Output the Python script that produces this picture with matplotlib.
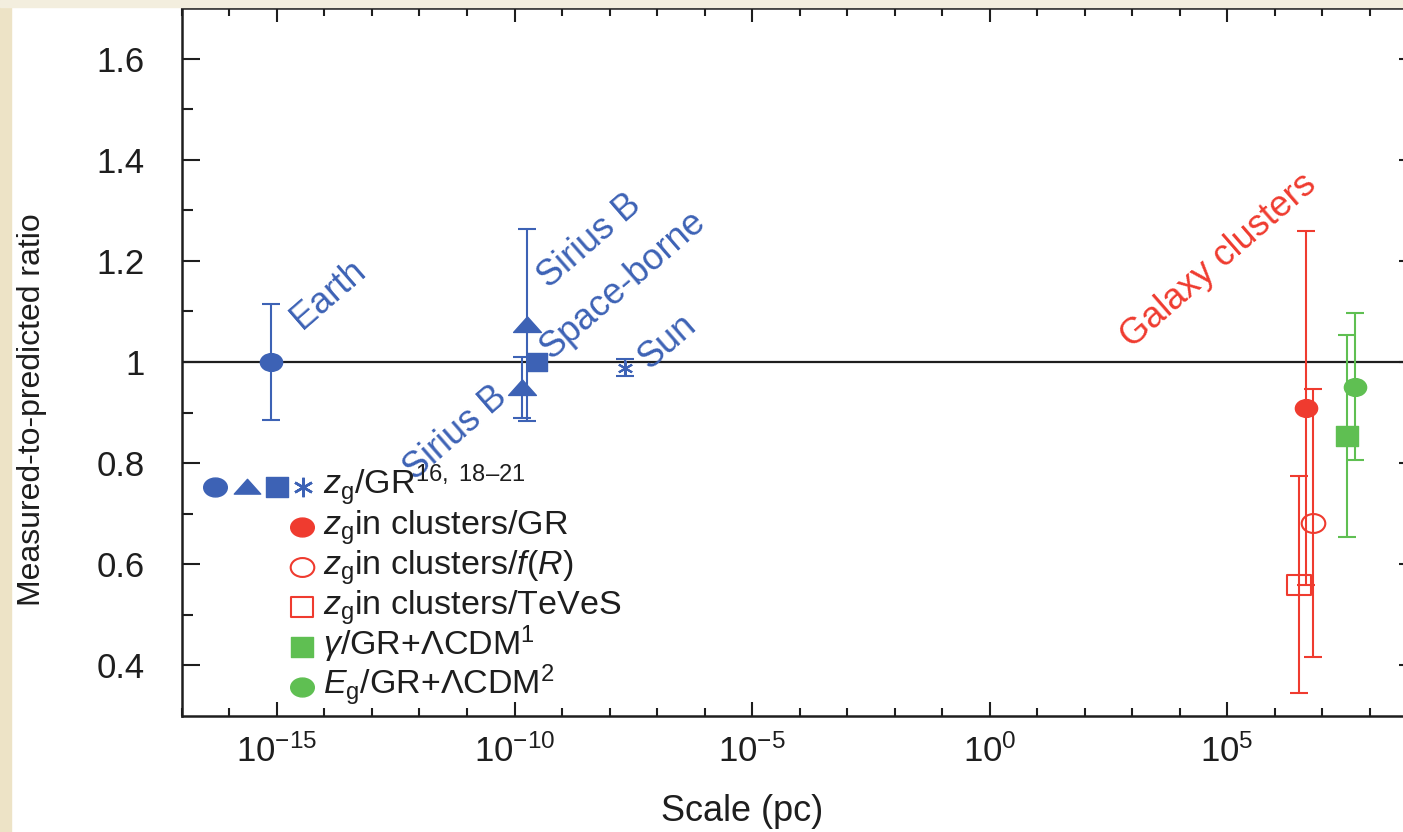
import matplotlib.pyplot as plt
import numpy as np
from matplotlib.path import Path
from matplotlib.patches import Rectangle
from matplotlib.ticker import NullFormatter

# --- data (scale in pc, measured/predicted ratio) ---
# blue: z_g/GR (local tests)
earth_x = [7.4e-16]
earth_y = [1.0]
earth_err = [0.115]

sirius_x = [1.45e-10, 1.86e-10]
sirius_y = [0.949, 1.073]
sirius_err = [0.06, 0.19]

space_x = [3.0e-10]
space_y = [1.0]

sun_x = [2.1e-8]
sun_y = [0.989]
sun_err = [0.017]

# red: galaxy clusters
cl_gr_x = [4.7e6]
cl_gr_y = [0.91]
cl_gr_err = [0.35]

cl_fr_x = [6.5e6]
cl_fr_y = [0.682]
cl_fr_err = [0.265]

cl_teves_x = [3.3e6]
cl_teves_y = [0.56]
cl_teves_err = [0.215]

# green: cosmology
gamma_x = [3.4e7]
gamma_y = [0.854]
gamma_err = [0.2]

eg_x = [4.9e7]
eg_y = [0.951]
eg_err = [0.145]

xtick_vals = [1e-15, 1e-10, 1e-5, 1e0, 1e5]
xtick_labels = [r"$10^{-15}$", r"$10^{-10}$", r"$10^{-5}$", r"$10^{0}$", r"$10^{5}$"]
ytick_vals = [0.4, 0.6, 0.8, 1.0, 1.2, 1.4, 1.6]
ytick_labels = ["0.4", "0.6", "0.8", "1", "1.2", "1.4", "1.6"]

BLUE = "#3d62b5"
RED = "#ef3b2f"
GREEN = "#5fbf52"
INK = "#1e1e1e"

plt.rcParams.update({
    "font.family": "Liberation Sans",
    "mathtext.fontset": "custom",
    "mathtext.rm": "Liberation Sans",
    "mathtext.it": "Liberation Sans:italic",
    "mathtext.bf": "Liberation Sans:bold",
    "font.size": 24,
    "text.color": INK,
})

# slightly wide markers, like in the (horizontally stretched) original
circ = Path.unit_circle()
oval = Path(circ.vertices * [1.25, 1.0], circ.codes)
tri = Path([(-1, -0.5), (1, -0.5), (0, 0.62), (-1, -0.5)],
           [Path.MOVETO, Path.LINETO, Path.LINETO, Path.CLOSEPOLY])
box = Path([(-1.15, -1), (1.15, -1), (1.15, 1), (-1.15, 1), (-1.15, -1)],
           [Path.MOVETO, Path.LINETO, Path.LINETO, Path.LINETO, Path.CLOSEPOLY])
aster = (6, 2, 0)

W, H = 1403, 832
fig = plt.figure(figsize=(W / 100, H / 100), dpi=100)
fig.patch.set_facecolor("white")
fig.patches.append(Rectangle((0, 0), 11 / W, 1, transform=fig.transFigure,
                             color="#ede3c6", zorder=0))
fig.patches.append(Rectangle((0, 1 - 7 / H), 1, 7 / H, transform=fig.transFigure,
                             color="#f3eede", zorder=0))

L, R, T, B = 182, 1417, 8, 716
ax = fig.add_axes([L / W, (H - B) / H, (R - L) / W, (B - T) / H])

ax.axhline(1.0, color=INK, lw=1.6, zorder=1)

eb = dict(elinewidth=1.5, capthick=1.5, capsize=6.5, ls="none", zorder=3)

ax.errorbar(earth_x, earth_y, yerr=earth_err, marker=oval, ms=16, color=BLUE, **eb)
ax.errorbar(sirius_x, sirius_y, yerr=sirius_err, marker=tri, ms=20, color=BLUE, **eb)
ax.plot(space_x, space_y, marker=box, ms=15, color=BLUE, ls="none", zorder=3)
ax.errorbar(sun_x, sun_y, yerr=sun_err, marker=aster, ms=11, mew=1.5, color=BLUE, **eb)

ax.errorbar(cl_teves_x, cl_teves_y, yerr=cl_teves_err, marker=box, ms=17,
            mfc="none", mec=RED, mew=1.5, color=RED, **eb)
ax.errorbar(cl_fr_x, cl_fr_y, yerr=cl_fr_err, marker=oval, ms=17,
            mfc="none", mec=RED, mew=1.5, color=RED, **eb)
ax.errorbar(cl_gr_x, cl_gr_y, yerr=cl_gr_err, marker=oval, ms=16, color=RED, **eb)

ax.errorbar(gamma_x, gamma_y, yerr=gamma_err, marker=box, ms=16, color=GREEN, **eb)
ax.errorbar(eg_x, eg_y, yerr=eg_err, marker=oval, ms=16, color=GREEN, **eb)

# rotated labels (original is stretched sideways, so the 45 deg text sits flatter)
lab = dict(rotation=41, rotation_mode="anchor", va="baseline", fontsize=26)
ax.text(10**-14.48, 1.063, "Earth", color=BLUE, ha="left", **lab)
ax.text(10**-9.27, 1.145, "Sirius B", color=BLUE, ha="left", **lab)
ax.text(10**-9.22, 1.005, "Space-borne", color=BLUE, ha="left", **lab)
ax.text(10**-7.15, 0.985, "Sun", color=BLUE, ha="left", **lab)
ax.text(10**-10.12, 0.925, "Sirius B", color=BLUE, ha="right", **lab)
ax.text(10**3.0, 1.025, "Galaxy clusters", color=RED, ha="left", **lab)

# hand-made legend
def axx(px):
    return (px - L) / (R - L)

def axy(py):
    return (B - py) / (B - T)

rows = [486.7 + 40 * i for i in range(6)]
mk = dict(transform=ax.transAxes, clip_on=False, ls="none", zorder=4)
ax.plot([axx(215)], [axy(rows[0])], marker=oval, ms=17, color=BLUE, **mk)
ax.plot([axx(246.7)], [axy(rows[0])], marker=tri, ms=19, color=BLUE, **mk)
ax.plot([axx(277.3)], [axy(rows[0])], marker=box, ms=16, color=BLUE, **mk)
ax.plot([axx(303.3)], [axy(rows[0])], marker=aster, ms=14, mew=1.8, color=BLUE, **mk)
mx = axx(301.7)
ax.plot([mx], [axy(rows[1])], marker=oval, ms=17, color=RED, **mk)
ax.plot([mx], [axy(rows[2])], marker=oval, ms=17, mfc="none", mec=RED, mew=1.5, **mk)
ax.plot([mx], [axy(rows[3])], marker=box, ms=16, mfc="none", mec=RED, mew=1.5, **mk)
ax.plot([mx], [axy(rows[4])], marker=box, ms=16, color=GREEN, **mk)
ax.plot([mx], [axy(rows[5])], marker=oval, ms=17, color=GREEN, **mk)

legend_texts = [
    r"$z_{\rm g}$/GR$^{\rm 16,\ 18–21}$",
    r"$z_{\rm g}$in clusters/GR",
    r"$z_{\rm g}$in clusters/$f$($R$)",
    r"$z_{\rm g}$in clusters/TeVeS",
    r"$\gamma$/GR+ΛCDM$^{\rm 1}$",
    r"$E_{\rm g}$/GR+ΛCDM$^{\rm 2}$",
]
for py, s in zip(rows, legend_texts):
    ax.text(axx(323), axy(py + 8), s, transform=ax.transAxes, ha="left",
            va="baseline", fontsize=24.5, color=INK)

# axes
ax.set_xscale("log")
ax.set_xlim(1e-17, 1e9)
ax.set_ylim(0.3, 1.7)
ax.set_xticks(xtick_vals, xtick_labels)
ax.set_xticks([10.0**k for k in range(-17, 10) if k % 5 != 0], minor=True)
ax.xaxis.set_minor_formatter(NullFormatter())
ax.set_yticks(ytick_vals, ytick_labels)
ax.set_yticks([0.5, 0.7, 0.9, 1.1, 1.3, 1.5], minor=True)

ax.tick_params(which="both", direction="in", color=INK, width=1.5, labelcolor=INK)
ax.tick_params(axis="x", which="major", length=10, pad=13, top=True, labelsize=25)
ax.tick_params(axis="x", which="minor", length=6, top=True)
ax.tick_params(axis="y", which="major", length=13, pad=27, right=True, labelsize=25)
ax.tick_params(axis="y", which="minor", length=8, right=False)
for sp in ax.spines.values():
    sp.set_linewidth(1.8)
    sp.set_color(INK)

ax.set_xlabel("Scale (pc)", fontsize=26, color=INK)
ax.xaxis.set_label_coords(axx(742), axy(794))
ax.set_ylabel("Measured-to-predicted ratio", fontsize=23, color=INK)
ax.yaxis.set_label_coords(axx(47), axy(410))

fig.savefig("out.png", dpi=100)
